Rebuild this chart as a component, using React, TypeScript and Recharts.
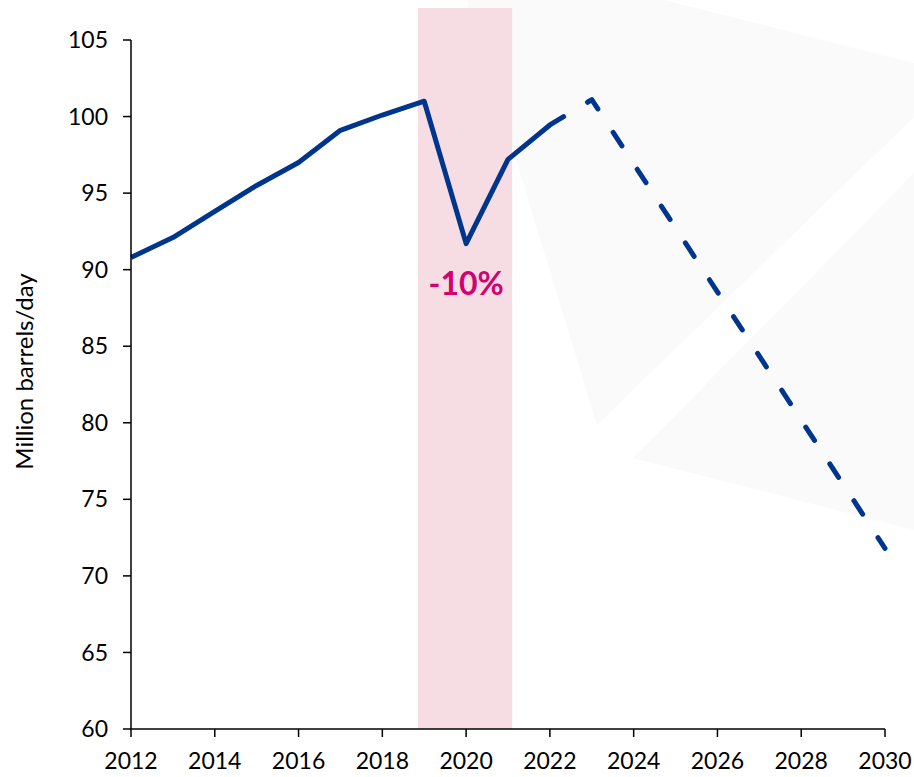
import React from 'react';
import { LineChart, Line, XAxis, YAxis, ReferenceArea, ReferenceDot } from 'recharts';

// Historical oil demand (million barrels/day)
const histYears = [2012, 2013, 2014, 2015, 2016, 2017, 2018, 2019, 2020, 2021, 2022];
const histValues = [90.8, 92.1, 93.8, 95.5, 97.0, 99.1, 100.1, 101.0, 91.7, 97.2, 99.45];

// Projection
const projYears = [2022, 2023, 2030];
const projValues = [99.45, 101.1, 71.8];

const xTicks = [2012, 2014, 2016, 2018, 2020, 2022, 2024, 2026, 2028, 2030];
const yTicks = [60, 65, 70, 75, 80, 85, 90, 95, 100, 105];

const covidStart = 2018.85;
const covidEnd = 2021.1;
const bandTop = 107.09;
const dropLabel = '-10%';
const dropLabelYear = 2020;
const dropLabelValue = 89.1;

const allYears = Array.from(new Set([...histYears, ...projYears])).sort((a, b) => a - b);
const data = allYears.map((year) => {
  const hi = histYears.indexOf(year);
  const pi = projYears.indexOf(year);
  return {
    year,
    actual: hi >= 0 ? histValues[hi] : null,
    projection: pi >= 0 ? projValues[pi] : null,
  };
});

const BLUE = '#00358e';
const FONT = 'Lato, "Open Sans", sans-serif';

const tickStyle = { fill: '#000', fontSize: 23, fontFamily: FONT };

const YLabel = () => (
  <text
    x={25}
    y={363.5}
    transform="rotate(-90, 25, 363.5)"
    textAnchor="middle"
    fill="#000"
    fontSize={24}
    fontFamily={FONT}
  >
    Million barrels/day
  </text>
);

export default function App() {
  return (
    <div style={{ position: 'fixed', left: 0, top: 0, width: 914, height: 777, overflow: 'hidden', background: '#fff' }}>
      <svg width={914} height={777} style={{ position: 'absolute', left: 0, top: 0 }}>
        <polygon points="467,0 663,0 914,63 914,117 597,425" fill="#fafafb" />
        <polygon points="633,458 914,173 914,530" fill="#fafafb" />
      </svg>
      <div style={{ position: 'absolute', left: 8, top: 8 }}>
        <LineChart
          width={906}
          height={769}
          data={data}
          margin={{ top: 32, right: 29, left: 0, bottom: 0 }}
        >
          <ReferenceArea
            x1={covidStart}
            x2={covidEnd}
            y1={60}
            y2={bandTop}
            ifOverflow="visible"
            fill="#f6dde4"
            fillOpacity={1}
            stroke="none"
          />
          <XAxis
            dataKey="year"
            type="number"
            domain={[2012, 2030]}
            ticks={xTicks}
            interval={0}
            height={48}
            tickSize={8}
            tickMargin={16}
            stroke="#000"
            strokeWidth={1.5}
            tick={tickStyle}
            tickLine={{ stroke: '#000', strokeWidth: 1.5 }}
            axisLine={{ stroke: '#000', strokeWidth: 1.5 }}
          />
          <YAxis
            type="number"
            domain={[60, 105]}
            ticks={yTicks}
            interval={0}
            width={123}
            tickSize={8}
            tickMargin={15}
            stroke="#000"
            strokeWidth={1.5}
            tick={tickStyle}
            tickLine={{ stroke: '#000', strokeWidth: 1.5 }}
            axisLine={{ stroke: '#000', strokeWidth: 1.5 }}
            label={{ content: () => <YLabel /> }}
          />
          <Line
            type="linear"
            dataKey="actual"
            stroke={BLUE}
            strokeWidth={5}
            strokeLinejoin="round"
            dot={false}
            activeDot={false}
            isAnimationActive={false}
          />
          <Line
            type="linear"
            dataKey="projection"
            stroke={BLUE}
            strokeWidth={5}
            strokeDasharray="16 28"
            strokeLinecap="round"
            strokeLinejoin="round"
            connectNulls
            dot={false}
            activeDot={false}
            isAnimationActive={false}
          />
          <ReferenceDot
            x={dropLabelYear}
            y={dropLabelValue}
            r={0}
            fill="none"
            stroke="none"
            ifOverflow="visible"
            label={{
              value: dropLabel,
              position: 'center',
              fill: '#d4006f',
              fontSize: 32,
              fontWeight: 700,
              fontFamily: FONT,
            }}
          />
        </LineChart>
      </div>
    </div>
  );
}
